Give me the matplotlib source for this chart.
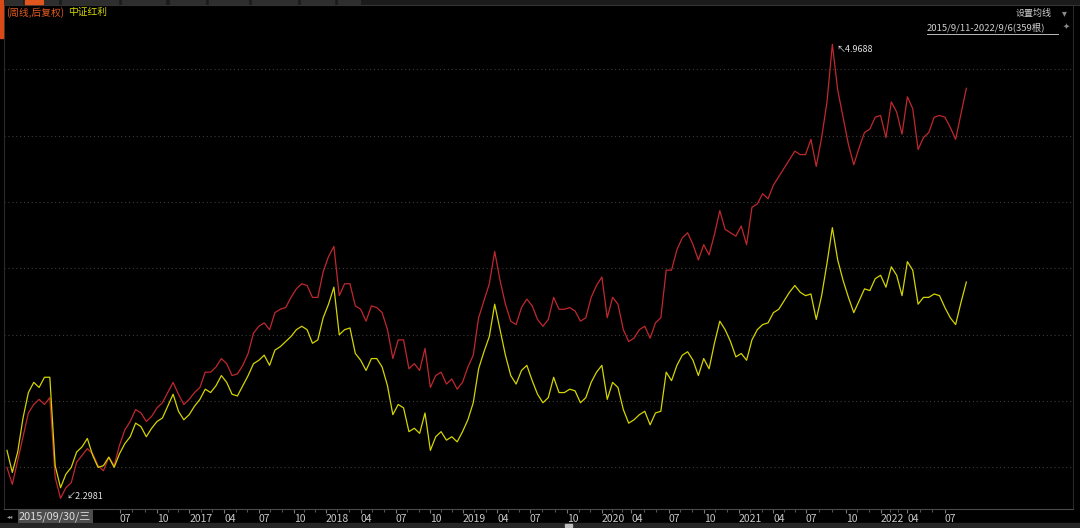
import numpy as np
import matplotlib
matplotlib.use("Agg")
import matplotlib.pyplot as plt
from matplotlib.patches import Rectangle
from matplotlib.lines import Line2D

plt.rcParams['font.family'] = ['Noto Sans CJK SC', 'DejaVu Sans']

# weekly bars (every 2nd bar sampled), 2015/9/11 - 2022/9/6
bars = np.arange(0, 360, 2)

# 红利 stock, weekly close (后复权)
stock = [2.48, 2.38, 2.52, 2.66, 2.80, 2.85, 2.88, 2.85, 2.89, 2.42,
         2.2981, 2.36, 2.39, 2.51, 2.55, 2.59, 2.56, 2.49, 2.46, 2.54,
         2.49, 2.61, 2.70, 2.75, 2.82, 2.80, 2.75, 2.78, 2.83, 2.86,
         2.92, 2.98, 2.91, 2.85, 2.88, 2.92, 2.95, 3.04, 3.04, 3.07,
         3.12, 3.09, 3.02, 3.03, 3.08, 3.15, 3.27, 3.31, 3.33, 3.29,
         3.39, 3.41, 3.42, 3.48, 3.53, 3.56, 3.55, 3.48, 3.48, 3.63,
         3.72, 3.78, 3.49, 3.56, 3.56, 3.43, 3.41, 3.34, 3.43, 3.42,
         3.39, 3.29, 3.12, 3.23, 3.23, 3.06, 3.09, 3.05, 3.18, 2.95,
         3.02, 3.04, 2.97, 3.00, 2.94, 2.98, 3.07, 3.14, 3.36, 3.46,
         3.56, 3.75, 3.58, 3.44, 3.34, 3.32, 3.42, 3.47, 3.43, 3.35,
         3.31, 3.35, 3.48, 3.41, 3.41, 3.42, 3.40, 3.34, 3.36, 3.48,
         3.55, 3.60, 3.36, 3.48, 3.44, 3.29, 3.22, 3.24, 3.29, 3.31,
         3.24, 3.33, 3.36, 3.64, 3.64, 3.76, 3.83, 3.86, 3.79, 3.70,
         3.79, 3.73, 3.85, 3.99, 3.88, 3.86, 3.84, 3.90, 3.79, 4.01,
         4.03, 4.09, 4.06, 4.14, 4.19, 4.24, 4.29, 4.34, 4.32, 4.32,
         4.41, 4.25, 4.42, 4.63, 4.9688, 4.70, 4.54, 4.38, 4.26, 4.36,
         4.45, 4.47, 4.54, 4.55, 4.42, 4.63, 4.57, 4.44, 4.66, 4.59,
         4.35, 4.42, 4.45, 4.54, 4.55, 4.54, 4.48, 4.41, 4.56, 4.71]

# 中证红利 overlay
index_hl = [2.58, 2.45, 2.57, 2.77, 2.92, 2.98, 2.95, 3.01, 3.01, 2.49,
            2.36, 2.44, 2.48, 2.57, 2.60, 2.65, 2.55, 2.48, 2.49, 2.54,
            2.48, 2.56, 2.62, 2.66, 2.74, 2.72, 2.66, 2.71, 2.75, 2.77,
            2.84, 2.91, 2.81, 2.76, 2.79, 2.84, 2.88, 2.94, 2.92, 2.96,
            3.02, 2.98, 2.91, 2.90, 2.96, 3.02, 3.09, 3.11, 3.14, 3.08,
            3.17, 3.19, 3.22, 3.25, 3.29, 3.31, 3.29, 3.21, 3.23, 3.36,
            3.44, 3.54, 3.26, 3.29, 3.30, 3.15, 3.11, 3.05, 3.12, 3.12,
            3.07, 2.96, 2.79, 2.85, 2.83, 2.69, 2.71, 2.68, 2.80, 2.58,
            2.66, 2.69, 2.64, 2.66, 2.63, 2.69, 2.76, 2.86, 3.06, 3.16,
            3.25, 3.44, 3.29, 3.14, 3.02, 2.97, 3.05, 3.08, 2.99, 2.91,
            2.86, 2.89, 3.01, 2.92, 2.92, 2.94, 2.93, 2.86, 2.89, 2.98,
            3.04, 3.08, 2.88, 2.98, 2.95, 2.82, 2.74, 2.76, 2.79, 2.81,
            2.73, 2.80, 2.81, 3.04, 2.99, 3.08, 3.14, 3.16, 3.11, 3.02,
            3.12, 3.06, 3.21, 3.34, 3.29, 3.22, 3.13, 3.15, 3.11, 3.23,
            3.29, 3.32, 3.33, 3.39, 3.41, 3.46, 3.51, 3.55, 3.51, 3.49,
            3.50, 3.35, 3.49, 3.68, 3.89, 3.70, 3.58, 3.48, 3.39, 3.46,
            3.53, 3.52, 3.59, 3.61, 3.54, 3.66, 3.61, 3.49, 3.69, 3.64,
            3.44, 3.48, 3.48, 3.50, 3.49, 3.42, 3.36, 3.32, 3.45, 3.57]

tick_bars = [42, 56, 68, 81, 94, 107, 119, 132, 145, 158, 170, 183, 195,
             209, 222, 233, 247, 260, 273, 286, 298, 313, 326, 336, 350]
tick_labels = ['07', '10', '2017', '04', '07', '10', '2018', '04', '07', '10',
               '2019', '04', '07', '10', '2020', '04', '07', '10', '2021',
               '04', '07', '10', '2022', '04', '07']

grid_levels = [2.482, 2.871, 3.259, 3.653, 4.041, 4.429, 4.824]

W, H = 1080, 528
fig = plt.figure(figsize=(W / 100, H / 100), dpi=100, facecolor='black')
ax = fig.add_axes([4 / W, 1 - 509 / H, (1073 - 4) / W, (509 - 5) / H])
ax.set_facecolor('black')

ax.plot(bars, stock, color='#c0282e', lw=0.9)
ax.plot(bars, index_hl, color='#d4d400', lw=0.9)

ax.set_xlim(-1.1, 397.8)
ax.set_ylim(2.235, 5.2)

for g in grid_levels:
    ax.axhline(g, color='#3a3a3a', lw=0.8, ls=(0, (1, 2.5)), zorder=0)

ax.set_yticks([])
ax.set_xticks(tick_bars)
ax.set_xticklabels(tick_labels, fontsize=7.5, color='#c8c8c8', ha='left')
ax.tick_params(axis='x', length=3, color='#777777', pad=0.5, width=0.8)
minor = []
for a, b in zip(tick_bars[:-1], tick_bars[1:]):
    minor += [a + (b - a) / 3, a + 2 * (b - a) / 3]
ax.set_xticks(minor, minor=True)
ax.tick_params(axis='x', which='minor', length=2, color='#555555', width=0.8)

for s in ['left', 'right']:
    ax.spines[s].set_color('#2a2a2a')
ax.spines['top'].set_visible(False)
ax.spines['bottom'].set_color('#4a4a4a')

# min / max labels
imin = int(np.argmin(stock))
imax = int(np.argmax(stock))
ax.annotate('\u2199' + f'{stock[imin]:.4f}', (bars[imin], stock[imin]),
            xytext=(4, 1), textcoords='offset points', fontsize=6.5,
            color='#e0e0e0', va='center', ha='left')
ax.annotate('\u2196' + f'{stock[imax]:.4f}', (bars[imax], stock[imax]),
            xytext=(3, -4), textcoords='offset points', fontsize=6.5,
            color='#e0e0e0', va='center', ha='left')

# ---- window chrome ----
def px(x, y):
    return x / W, 1 - y / H

fig.patches.append(Rectangle(px(0, 4), 1, 4 / H, transform=fig.transFigure,
                             color='#1b1b1b', zorder=1))
for x0, x1 in [(5, 22), (45, 58), (62, 118), (122, 165), (170, 205),
               (209, 248), (252, 297), (301, 334), (338, 360)]:
    fig.patches.append(Rectangle(px(x0, 4), (x1 - x0) / W, 4 / H,
                                 transform=fig.transFigure, color='#2e2e2e', zorder=2))
fig.patches.append(Rectangle(px(25, 4), 18 / W, 4 / H, transform=fig.transFigure,
                             color='#e0561c', zorder=3))
fig.add_artist(Line2D([0, 1], [1 - 4.5 / H] * 2, color='#333333', lw=0.8))
fig.patches.append(Rectangle(px(0, 38), 3 / W, 38 / H, transform=fig.transFigure,
                             color='#d94a18', zorder=3))

fig.text(*px(6, 12.5), '(周线,后复权)', fontsize=7, color='#e25a22', va='center')
fig.text(*px(68, 12.5), '中证红利', fontsize=7, color='#d6d600', va='center')

fig.text(*px(1016, 13), '设置均线', fontsize=6.5, color='#cfcfcf', va='center')
fig.text(*px(1062, 13), '\u25be', fontsize=7, color='#8a8a8a', va='center')
fig.text(*px(927, 27), '2015/9/11-2022/9/6(359根)', fontsize=6.8,
         color='#cfcfcf', va='center')
fig.add_artist(Line2D([927 / W, 1058 / W], [1 - 34 / H] * 2, color='#bbbbbb', lw=0.7))
fig.text(*px(1063, 26), '\u2726', fontsize=6, color='#8a8a8a', va='center')

# bottom bar
fig.text(*px(7, 516), '\u25c2\u25c2', fontsize=4.5, color='#9a9a9a', va='center')
fig.text(*px(19, 516.5), '2015/09/30/三', fontsize=7.9, color='#dddddd', va='center',
         bbox=dict(boxstyle='square,pad=0.12', fc='#4d4d4d', ec='none'))
fig.patches.append(Rectangle(px(0, 528), 1, 5 / H, transform=fig.transFigure,
                             color='#262626', zorder=1))
fig.patches.append(Rectangle(px(565, 527), 7 / W, 3 / H, transform=fig.transFigure,
                             color='#bdbdbd', zorder=2))

fig.savefig('out.png', dpi=100, facecolor='black')
